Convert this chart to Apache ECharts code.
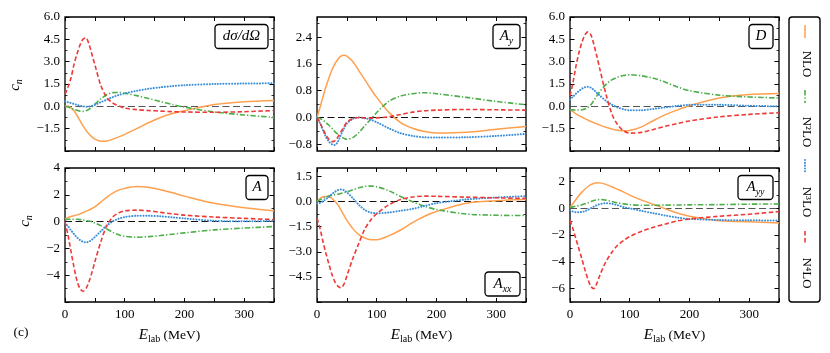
<!DOCTYPE html>
<html>
<head>
<meta charset="utf-8">
<script src="https://cdn.jsdelivr.net/npm/echarts@6/dist/echarts.min.js"></script>
<style>
html, body { margin: 0; padding: 0; background: #fff; }
#chart { width: 830px; height: 353px; }
</style>
</head>
<body>
<div id="chart"></div>
<script>
var ENERGY = [0, 5, 10, 15, 20, 25, 30, 35, 40, 45, 50, 60, 70, 80, 90, 100, 120, 140, 160, 180, 200, 250, 300, 350];
var ORDERS = ['NLO', 'N²LO', 'N³LO', 'N⁴LO'];
var X_TICKS = [0, 50, 100, 150, 200, 250, 300, 350];
var X_LABELS = [0, 100, 200, 300];

// dsigma/dOmega
var DSIG_NLO = [0, 0.03, -0.1, -0.3, -0.6, -0.95, -1.3, -1.6, -1.85, -2.05, -2.2, -2.35, -2.33, -2.2, -2.05, -1.88, -1.5, -1.1, -0.75, -0.48, -0.29, 0.12, 0.31, 0.4];
var DSIG_N2LO = [0, -0.05, -0.12, -0.2, -0.27, -0.32, -0.34, -0.3, -0.2, -0.05, 0.15, 0.5, 0.78, 0.92, 0.93, 0.88, 0.72, 0.52, 0.32, 0.12, -0.05, -0.38, -0.58, -0.74];
var DSIG_N3LO = [0.34, 0.28, 0.22, 0.16, 0.1, 0.04, 0, -0.03, -0.02, 0.04, 0.1, 0.28, 0.45, 0.62, 0.76, 0.87, 1.04, 1.18, 1.28, 1.36, 1.42, 1.5, 1.53, 1.55];
var DSIG_N4LO = [0.8, 1.3, 1.9, 2.8, 3.5, 4.1, 4.5, 4.6, 4.2, 3.5, 2.8, 1.4, 0.6, 0.22, 0.03, -0.12, -0.22, -0.28, -0.32, -0.36, -0.38, -0.4, -0.36, -0.28];
var DSIG_TICKS = [-3, -1.5, 0, 1.5, 3, 4.5, 6];

// A_y
var AY_NLO = [0, 0.3, 0.62, 0.92, 1.18, 1.42, 1.6, 1.74, 1.83, 1.86, 1.83, 1.67, 1.4, 1.13, 0.85, 0.6, 0.16, -0.15, -0.32, -0.42, -0.46, -0.44, -0.35, -0.27];
var AY_N2LO = [0, -0.03, -0.08, -0.15, -0.23, -0.32, -0.42, -0.5, -0.57, -0.62, -0.65, -0.6, -0.45, -0.25, -0.05, 0.15, 0.48, 0.64, 0.71, 0.74, 0.71, 0.6, 0.48, 0.38];
var AY_N3LO = [0, -0.17, -0.38, -0.58, -0.72, -0.8, -0.82, -0.72, -0.52, -0.33, -0.18, -0.04, 0, -0.02, -0.07, -0.14, -0.32, -0.47, -0.55, -0.59, -0.6, -0.59, -0.55, -0.49];
var AY_N4LO = [0, -0.15, -0.35, -0.52, -0.65, -0.72, -0.7, -0.58, -0.43, -0.28, -0.14, -0.03, 0, -0.02, -0.02, -0.01, 0.02, 0.09, 0.16, 0.2, 0.22, 0.24, 0.23, 0.22];
var AY_TICKS = [-0.8, 0, 0.8, 1.6, 2.4];

// D
var D_NLO = [-0.2, -0.35, -0.5, -0.62, -0.73, -0.83, -0.93, -1.02, -1.1, -1.18, -1.26, -1.4, -1.52, -1.6, -1.64, -1.62, -1.38, -0.95, -0.56, -0.24, 0.04, 0.56, 0.8, 0.87];
var D_N2LO = [-0.22, -0.24, -0.25, -0.25, -0.23, -0.18, -0.08, 0.1, 0.4, 0.7, 1.0, 1.46, 1.78, 1.96, 2.07, 2.12, 2.05, 1.88, 1.62, 1.3, 1.05, 0.75, 0.63, 0.56];
var D_N3LO = [0.45, 0.65, 0.85, 1.03, 1.18, 1.28, 1.32, 1.25, 1.1, 0.9, 0.72, 0.38, 0.12, -0.08, -0.2, -0.27, -0.26, -0.17, -0.07, 0.03, 0.1, 0.1, 0.04, 0];
var D_N4LO = [0.7, 1.6, 2.7, 3.6, 4.3, 4.8, 5.0, 4.8, 4.15, 3.35, 2.5, 0.85, -0.5, -1.25, -1.65, -1.8, -1.75, -1.55, -1.34, -1.15, -0.98, -0.71, -0.54, -0.43];
var D_TICKS = [-3, -1.5, 0, 1.5, 3, 4.5, 6];

// A
var A_NLO = [0.2, 0.3, 0.38, 0.44, 0.5, 0.58, 0.67, 0.76, 0.86, 0.98, 1.1, 1.45, 1.83, 2.13, 2.35, 2.48, 2.62, 2.56, 2.37, 2.15, 1.9, 1.37, 1.04, 0.81];
var A_N2LO = [0.15, 0.17, 0.18, 0.18, 0.17, 0.15, 0.12, 0.08, 0.04, -0.02, -0.1, -0.3, -0.55, -0.8, -0.98, -1.1, -1.17, -1.12, -1.04, -0.94, -0.84, -0.62, -0.48, -0.37];
var A_N3LO = [-0.1, -0.35, -0.65, -0.93, -1.18, -1.37, -1.5, -1.55, -1.5, -1.35, -1.15, -0.72, -0.3, 0.02, 0.22, 0.34, 0.43, 0.43, 0.4, 0.32, 0.24, 0.06, 0.02, 0.05];
var A_N4LO = [0, -1.0, -2.2, -3.4, -4.4, -5.0, -5.2, -5.0, -4.5, -3.8, -3.0, -1.5, -0.3, 0.35, 0.65, 0.8, 0.86, 0.8, 0.69, 0.58, 0.48, 0.34, 0.24, 0.15];
var A_TICKS = [-6, -4, -2, 0, 2, 4];

// A_xx
var AXX_NLO = [0, 0.18, 0.28, 0.3, 0.28, 0.18, 0.02, -0.2, -0.5, -0.82, -1.12, -1.62, -1.98, -2.18, -2.28, -2.28, -2.05, -1.7, -1.26, -0.88, -0.6, -0.1, 0.05, 0.12];
var AXX_N2LO = [0, 0.1, 0.2, 0.27, 0.33, 0.36, 0.4, 0.44, 0.48, 0.53, 0.58, 0.7, 0.82, 0.9, 0.92, 0.88, 0.65, 0.3, -0.02, -0.28, -0.48, -0.75, -0.82, -0.84];
var AXX_N3LO = [-0.12, -0.08, 0.02, 0.15, 0.28, 0.44, 0.58, 0.68, 0.72, 0.68, 0.55, 0.2, -0.2, -0.5, -0.66, -0.7, -0.66, -0.55, -0.44, -0.27, -0.1, 0.12, 0.24, 0.32];
var AXX_N4LO = [-1.0, -1.6, -2.4, -3.1, -3.75, -4.35, -4.8, -5.05, -5.15, -4.95, -4.45, -3.4, -2.5, -1.65, -1.1, -0.72, -0.2, 0.12, 0.27, 0.32, 0.31, 0.26, 0.22, 0.18];
var AXX_TICKS = [-6, -4.5, -3, -1.5, 0, 1.5];

// A_yy
var AYY_NLO = [0.05, 0.35, 0.65, 0.95, 1.2, 1.42, 1.62, 1.76, 1.85, 1.9, 1.89, 1.78, 1.6, 1.4, 1.2, 0.98, 0.6, 0.28, -0.05, -0.36, -0.6, -0.93, -1.02, -1.1];
var AYY_N2LO = [0.05, 0.1, 0.15, 0.2, 0.26, 0.33, 0.4, 0.5, 0.58, 0.63, 0.65, 0.6, 0.5, 0.4, 0.32, 0.27, 0.22, 0.22, 0.23, 0.24, 0.25, 0.27, 0.3, 0.32];
var AYY_N3LO = [-0.15, -0.25, -0.3, -0.3, -0.28, -0.23, -0.12, 0, 0.12, 0.22, 0.3, 0.38, 0.33, 0.22, 0.08, -0.02, -0.2, -0.38, -0.55, -0.7, -0.8, -0.88, -0.9, -0.92];
var AYY_N4LO = [-0.9, -1.55, -2.3, -3.05, -3.8, -4.6, -5.3, -5.85, -6.0, -5.6, -5.0, -4.0, -3.3, -2.75, -2.4, -2.12, -1.72, -1.42, -1.18, -0.95, -0.8, -0.6, -0.45, -0.25];
var AYY_TICKS = [-6, -4, -2, 0, 2];

var FONT = 'Liberation Serif';
var COLORS = ['#ffa04f', '#4daf4a', '#3b8fd9', '#ee3a36'];
var DASHES = ['solid', [5.5, 2, 1.3, 2], [0.1, 2.7], [4.5, 2.5]];
var WIDTHS = [1.5, 1.6, 2, 1.6];

var GRID_LEFT = [65, 317, 570];
var GRID_TOP = [17, 168];
var GW = 209, GH = 134;

var RICH = {
  i: { fontFamily: FONT, fontStyle: 'italic', fontSize: 15, lineHeight: 20 },
  r: { fontFamily: FONT, fontSize: 15, lineHeight: 20 },
  s: { fontFamily: FONT, fontStyle: 'italic', fontSize: 10, lineHeight: 10, verticalAlign: 'bottom' },
  u: { fontFamily: FONT, fontSize: 10, lineHeight: 10, verticalAlign: 'bottom' }
};

var panels = [
  { col: 0, row: 0, min: -3, max: 6, minor: 0.75, ticks: DSIG_TICKS, dec: 1, lines: [DSIG_NLO, DSIG_N2LO, DSIG_N3LO, DSIG_N4LO],
    text: '{i|dσ/dΩ}', box: { w: 53, top: true }, zero: '#555' },
  { col: 1, row: 0, min: -1, max: 3, minor: 0.4, ticks: AY_TICKS, dec: 1, lines: [AY_NLO, AY_N2LO, AY_N3LO, AY_N4LO],
    text: '{i|A}{s|y}', box: { w: 27, top: true }, zero: '#111' },
  { col: 2, row: 0, min: -3, max: 6, minor: 0.75, ticks: D_TICKS, dec: 1, lines: [D_NLO, D_N2LO, D_N3LO, D_N4LO],
    text: '{i|D}', box: { w: 24, top: true }, zero: '#555' },
  { col: 0, row: 1, min: -6, max: 4, minor: 1, ticks: A_TICKS, dec: 0, lines: [A_NLO, A_N2LO, A_N3LO, A_N4LO],
    text: '{i|A}', box: { w: 22, top: true }, zero: '#111' },
  { col: 1, row: 1, min: -6, max: 2, minor: 0.75, ticks: AXX_TICKS, dec: 1, lines: [AXX_NLO, AXX_N2LO, AXX_N3LO, AXX_N4LO],
    text: '{i|A}{s|xx}', box: { w: 35, top: false }, zero: '#111' },
  { col: 2, row: 1, min: -7, max: 3, minor: 1, ticks: AYY_TICKS, dec: 0, lines: [AYY_NLO, AYY_N2LO, AYY_N3LO, AYY_N4LO],
    text: '{i|A}{s|yy}', box: { w: 35, top: true }, zero: '#555' }
];

function fmt(dec, min) {
  return function (v) {
    if (Math.abs(v - min) < 1e-9) return '';
    var s = Math.abs(v) < 1e-9 ? (0).toFixed(dec) : v.toFixed(dec);
    return s.replace('-', '−');
  };
}

var grids = [], xAxes = [], yAxes = [], series = [], graphics = [];

panels.forEach(function (p, i) {
  var left = GRID_LEFT[p.col], top = GRID_TOP[p.row];
  grids.push({ left: left, top: top, width: GW, height: GH, show: true, borderColor: '#000', borderWidth: 1.3, backgroundColor: 'transparent' });

  ['bottom', 'top'].forEach(function (pos) {
    xAxes.push({
      gridIndex: i, type: 'value', position: pos, min: 0, max: 350,
      axisLine: { show: false, onZero: false }, splitLine: { show: false },
      axisTick: { inside: true, length: 4, customValues: X_TICKS, lineStyle: { color: '#000', width: 1 } },
      axisLabel: { show: pos === 'bottom' && p.row === 1, customValues: X_LABELS, margin: 6,
        fontFamily: FONT, fontSize: 13, color: '#000' }
    });
  });

  var minors = [];
  for (var k = Math.ceil(p.min / p.minor); k <= Math.floor(p.max / p.minor + 1e-9); k++) {
    if (k % 2 !== 0) minors.push(+(k * p.minor).toFixed(3));
  }
  ['left', 'right'].forEach(function (pos) {
    yAxes.push({
      gridIndex: i, type: 'value', position: pos, min: p.min, max: p.max,
      axisLine: { show: false, onZero: false }, splitLine: { show: false },
      axisTick: { inside: true, length: 4.5, customValues: p.ticks, lineStyle: { color: '#000', width: 1 } },
      axisLabel: { show: pos === 'left', customValues: p.ticks, margin: 5, formatter: fmt(p.dec, p.min),
        fontFamily: FONT, fontSize: 13, color: '#000' }
    });
    yAxes.push({
      gridIndex: i, type: 'value', position: pos, min: p.min, max: p.max,
      axisLine: { show: false, onZero: false }, splitLine: { show: false },
      axisTick: { inside: true, length: 2.5, customValues: minors, lineStyle: { color: '#000', width: 0.8 } },
      axisLabel: { show: false }
    });
  });

  p.lines.forEach(function (vals, k) {
    var s = {
      type: 'line', name: ORDERS[k], xAxisIndex: 2 * i, yAxisIndex: 4 * i,
      data: ENERGY.map(function (e, j) { return [e, vals[j]]; }),
      smooth: 0.3, symbol: 'none', silent: true, z: 3 + k,
      lineStyle: { color: COLORS[k], width: WIDTHS[k], type: DASHES[k], cap: k === 2 ? 'round' : 'butt' }
    };
    if (k === 0) {
      s.markLine = { silent: true, symbol: 'none', label: { show: false }, z: 2,
        lineStyle: { color: p.zero, type: [7, 3.5], width: 1.2 }, data: [{ yAxis: 0 }] };
    }
    series.push(s);
  });

  // observable label box
  var bx = left + GW - 6 - p.box.w;
  var by = p.box.top ? top + 7.5 : top + GH - 6 - 24;
  graphics.push({ type: 'rect', z: 50, shape: { x: bx, y: by, width: p.box.w, height: 24, r: 3.5 },
    style: { fill: '#fff', stroke: '#000', lineWidth: 1.3 } });
  graphics.push({ type: 'text', z: 51, x: bx + p.box.w / 2, y: by + 12,
    style: { text: p.text, rich: RICH, align: 'center', verticalAlign: 'middle', fill: '#000' } });
});

// y titles, x titles, panel tag
var RICH_SMALL = {
  i: { fontFamily: FONT, fontStyle: 'italic', fontSize: 15, lineHeight: 18 },
  r: { fontFamily: FONT, fontSize: 13.5, lineHeight: 18 },
  s: { fontFamily: FONT, fontStyle: 'italic', fontSize: 10, lineHeight: 9, verticalAlign: 'bottom' },
  u: { fontFamily: FONT, fontSize: 10, lineHeight: 9, verticalAlign: 'bottom' }
};
graphics.push({ type: 'text', x: 15, y: 85, rotation: Math.PI / 2,
  style: { text: '{i|c}{s|n}', rich: RICH_SMALL, align: 'center', verticalAlign: 'middle', fill: '#000' } });
graphics.push({ type: 'text', x: 25, y: 221, rotation: Math.PI / 2,
  style: { text: '{i|c}{s|n}', rich: RICH_SMALL, align: 'center', verticalAlign: 'middle', fill: '#000' } });
[0, 1, 2].forEach(function (c) {
  graphics.push({ type: 'text', x: GRID_LEFT[c] + GW / 2, y: 335,
    style: { text: '{i|E}{u|lab}{r| (MeV)}', rich: RICH_SMALL, align: 'center', verticalAlign: 'middle', fill: '#000' } });
});
graphics.push({ type: 'text', x: 21, y: 332,
  style: { text: '(c)', fontFamily: FONT, fontSize: 13.5, align: 'center', verticalAlign: 'middle', fill: '#000' } });

// legend, drawn vertically on the right
graphics.push({ type: 'rect', shape: { x: 789, y: 17, width: 31, height: 285, r: 3 },
  style: { fill: '#fff', stroke: '#000', lineWidth: 1.4 } });
var LEG_LINE = [25, 90, 160, 231];
var LEG_TEXT = [64, 132, 202, 273];
ORDERS.forEach(function (name, k) {
  graphics.push({ type: 'line', shape: { x1: 805, y1: LEG_LINE[k], x2: 805, y2: LEG_LINE[k] + 13 },
    style: { stroke: COLORS[k], lineWidth: WIDTHS[k], lineDash: DASHES[k] === 'solid' ? null : DASHES[k], lineCap: k === 2 ? 'round' : 'butt' } });
  graphics.push({ type: 'text', x: 806, y: LEG_TEXT[k], rotation: -Math.PI / 2,
    style: { text: name, fontFamily: FONT, fontSize: 13, align: 'center', verticalAlign: 'middle', fill: '#000' } });
});

var chart = echarts.init(document.getElementById('chart'), null, { renderer: 'canvas' });
chart.setOption({
  animation: false,
  backgroundColor: '#fff',
  grid: grids,
  xAxis: xAxes,
  yAxis: yAxes,
  series: series,
  graphic: graphics
});
</script>
</body>
</html>
